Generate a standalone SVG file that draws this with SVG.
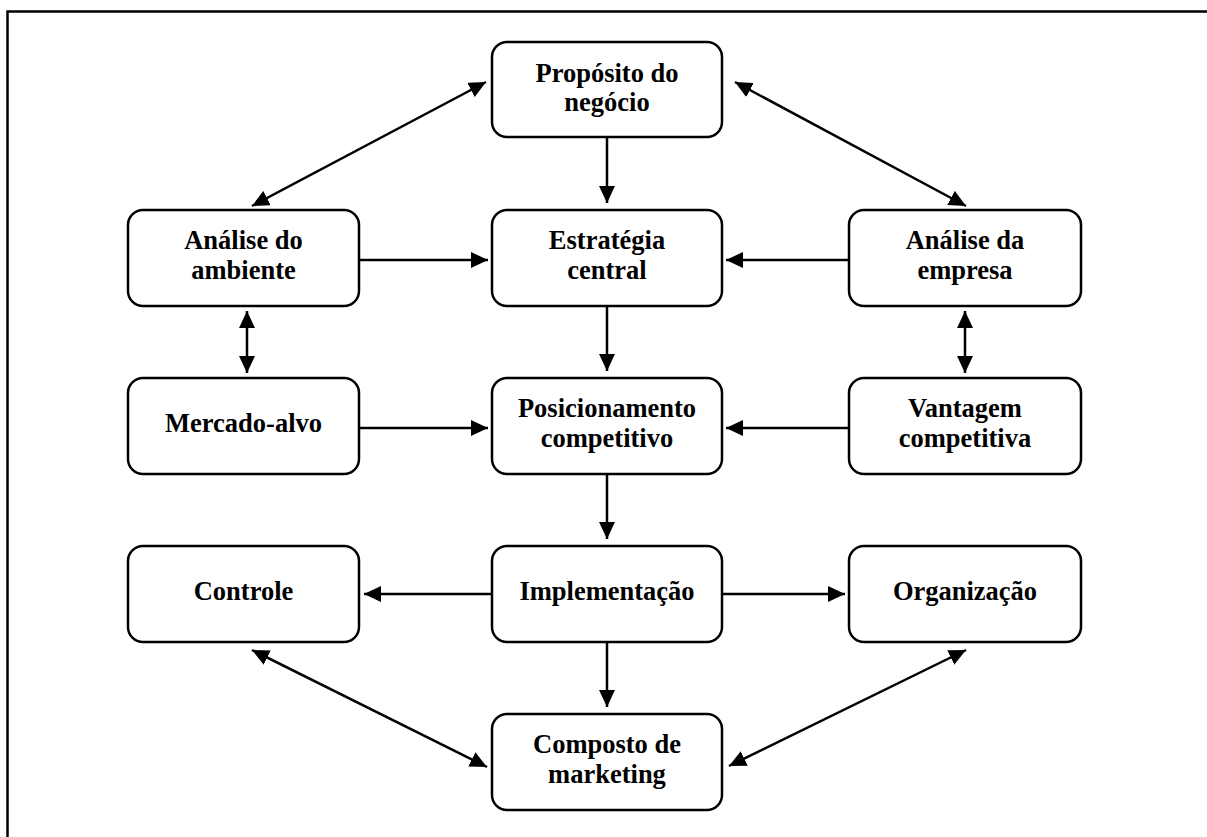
<svg xmlns="http://www.w3.org/2000/svg" width="1207" height="837" viewBox="0 0 1207 837">
  <defs>
    <marker id="head" viewBox="0 0 17 16" refX="17" refY="8" markerWidth="17" markerHeight="16" markerUnits="userSpaceOnUse" orient="auto-start-reverse">
      <path d="M0,0 L17,8 L0,16 Z" fill="#000"/>
    </marker>
  </defs>
  <style>
    .box { fill: #fff; stroke: #000; stroke-width: 2.5; }
    .lbl { font-family: "Liberation Serif", "Times New Roman", serif; font-weight: bold; font-size: 26.5px; text-anchor: middle; fill: #000; }
    .one { fill: none; stroke: #000; stroke-width: 2.5; marker-end: url(#head); }
    .two { fill: none; stroke: #000; stroke-width: 2.5; marker-start: url(#head); marker-end: url(#head); }
  </style>
  <rect width="1207" height="837" fill="#fff"/>
  <!-- outer frame -->
  <rect x="7.5" y="11.5" width="1220" height="840" fill="none" stroke="#000" stroke-width="2.5"/>

  <g id="connectors">
    <line class="one" x1="607" y1="137" x2="607" y2="203"/>
    <line class="one" x1="607" y1="306" x2="607" y2="371"/>
    <line class="one" x1="607" y1="474" x2="607" y2="539"/>
    <line class="one" x1="607" y1="642" x2="607" y2="707"/>
    <line class="one" x1="359" y1="260" x2="488" y2="260"/>
    <line class="one" x1="359" y1="428" x2="488" y2="428"/>
    <line class="one" x1="849" y1="260" x2="726" y2="260"/>
    <line class="one" x1="849" y1="428" x2="726" y2="428"/>
    <line class="one" x1="492" y1="594" x2="364" y2="594"/>
    <line class="one" x1="722" y1="594" x2="845" y2="594"/>
    <line class="two" x1="247" y1="311" x2="247" y2="373"/>
    <line class="two" x1="965" y1="311" x2="965" y2="373"/>
    <line class="two" x1="486" y1="82" x2="252" y2="206"/>
    <line class="two" x1="735" y1="82" x2="966" y2="206"/>
    <line class="two" x1="252" y1="650" x2="487" y2="767"/>
    <line class="two" x1="966" y1="650" x2="729" y2="766"/>
  </g>

  <g id="proposito">
    <rect class="box" x="492" y="42" width="230" height="95" rx="15"/>
    <text class="lbl" x="607" y="82">Propósito do</text>
    <text class="lbl" x="607" y="111">negócio</text>
  </g>
  <g id="analise-ambiente">
    <rect class="box" x="128" y="210" width="231" height="96" rx="15"/>
    <text class="lbl" x="243.5" y="249">Análise do</text>
    <text class="lbl" x="243.5" y="279">ambiente</text>
  </g>
  <g id="estrategia">
    <rect class="box" x="492" y="210" width="230" height="96" rx="15"/>
    <text class="lbl" x="607" y="249">Estratégia</text>
    <text class="lbl" x="607" y="279">central</text>
  </g>
  <g id="analise-empresa">
    <rect class="box" x="849" y="210" width="232" height="96" rx="15"/>
    <text class="lbl" x="965" y="249">Análise da</text>
    <text class="lbl" x="965" y="279">empresa</text>
  </g>
  <g id="mercado">
    <rect class="box" x="128" y="378" width="231" height="96" rx="15"/>
    <text class="lbl" x="243.5" y="432">Mercado-alvo</text>
  </g>
  <g id="posicionamento">
    <rect class="box" x="492" y="378" width="230" height="96" rx="15"/>
    <text class="lbl" x="607" y="417">Posicionamento</text>
    <text class="lbl" x="607" y="447">competitivo</text>
  </g>
  <g id="vantagem">
    <rect class="box" x="849" y="378" width="232" height="96" rx="15"/>
    <text class="lbl" x="965" y="417">Vantagem</text>
    <text class="lbl" x="965" y="447">competitiva</text>
  </g>
  <g id="controle">
    <rect class="box" x="128" y="546" width="231" height="96" rx="15"/>
    <text class="lbl" x="243.5" y="600">Controle</text>
  </g>
  <g id="implementacao">
    <rect class="box" x="492" y="546" width="230" height="96" rx="15"/>
    <text class="lbl" x="607" y="600">Implementação</text>
  </g>
  <g id="organizacao">
    <rect class="box" x="849" y="546" width="232" height="96" rx="15"/>
    <text class="lbl" x="965" y="600">Organização</text>
  </g>
  <g id="composto">
    <rect class="box" x="492" y="714" width="230" height="96" rx="15"/>
    <text class="lbl" x="607" y="753">Composto de</text>
    <text class="lbl" x="607" y="783">marketing</text>
  </g>
</svg>
